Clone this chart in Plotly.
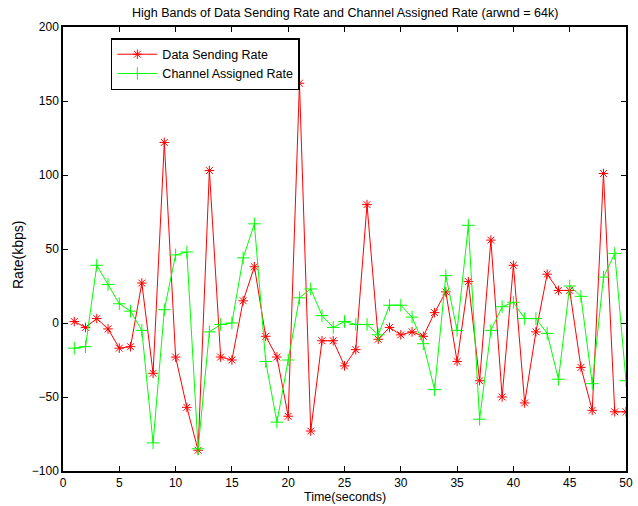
import plotly.graph_objects as go

time_s = list(range(1, 51))
data_sending_rate = [1, -3, 3, -4, -17, -16, 27, -34, 122, -23,
                     -57, -86, 103, -23, -25, 15, 38, -9, -23, -63,
                     162, -73, -12, -12, -29, -18, 80, -11, -3, -8,
                     -6, -9, 7, 21, -26, 28, -39, 56, -50, 39,
                     -54, -6, 33, 22, 22, -30, -59, 101, -60, -60]
channel_assigned_rate = [-17, -16, 39, 26, 13, 8, -5, -81, 9, 46,
                         48, -85, -6, -1, 0, 44, 67, -26, -67, -25,
                         17, 23, 5, -3, 1, -1, -1, -8, 12, 12,
                         4, -14, -45, 32, -5, 66, -65, -5, 11, 14,
                         3, 3, -7, -38, 25, 18, -41, 31, 47, -39]

title_text = "High Bands of Data Sending Rate and Channel Assigned Rate (arwnd = 64k)"
x_ticks = [0, 5, 10, 15, 20, 25, 30, 35, 40, 45, 50]
y_ticks = [-100, -50, 0, 50, 100, 150, 200]

FONT = "Liberation Sans, Arial, Helvetica, sans-serif"

fig = go.Figure()
fig.add_trace(go.Scatter(
    x=time_s, y=data_sending_rate, mode="lines+markers",
    name="Data Sending Rate",
    line=dict(color="#ff0000", width=1),
    marker=dict(symbol="asterisk-open", size=8, color="#ff0000",
                line=dict(color="#ff0000", width=1)),
))
fig.add_trace(go.Scatter(
    x=time_s, y=channel_assigned_rate, mode="lines+markers",
    name="Channel Assigned Rate",
    line=dict(color="#00ff00", width=1),
    marker=dict(symbol="cross-thin-open", size=9, color="#00ff00",
                line=dict(color="#00ff00", width=1)),
))

axis_common = dict(
    showgrid=False, zeroline=False, showline=True, linecolor="black",
    linewidth=1.5, mirror="ticks", ticks="inside", ticklen=5,
    tickwidth=1, tickcolor="black", automargin=False,
    tickfont=dict(family=FONT, size=12, color="black"),
)

fig.update_layout(
    width=638, height=506,
    margin=dict(l=63, r=12, t=27, b=35, autoexpand=False),
    paper_bgcolor="white", plot_bgcolor="white",
    font=dict(family=FONT, size=12, color="black"),
    showlegend=True,
    legend=dict(
        x=0.085, y=0.975, xanchor="left", yanchor="top",
        bgcolor="white", bordercolor="black", borderwidth=1.5,
        font=dict(family=FONT, size=12.5, color="black"),
        tracegroupgap=0, itemwidth=40,
    ),
    xaxis=dict(range=[0, 50], tickvals=x_ticks, **axis_common),
    yaxis=dict(range=[-100, 200], tickvals=y_ticks, **axis_common),
    annotations=[
        dict(text=title_text, xref="paper", yref="paper", x=0.5, y=1,
             yshift=14, xanchor="center", yanchor="middle",
             showarrow=False, font=dict(family=FONT, size=12.5, color="black")),
        dict(text="Time(seconds)", xref="paper", yref="paper", x=0.5, y=0,
             yshift=-26, xanchor="center", yanchor="middle",
             showarrow=False, font=dict(family=FONT, size=12.5, color="black")),
        dict(text="Rate(kbps)", xref="paper", yref="paper", x=0, y=0.5,
             xshift=-45, yshift=-6, xanchor="center", yanchor="middle",
             textangle=-90,
             showarrow=False, font=dict(family=FONT, size=14, color="black")),
    ],
)

fig.write_html("out.html",
               config={"displayModeBar": False, "responsive": False},
               post_script="document.body.style.margin='0';document.body.style.padding='0';document.body.style.overflow='hidden';")
